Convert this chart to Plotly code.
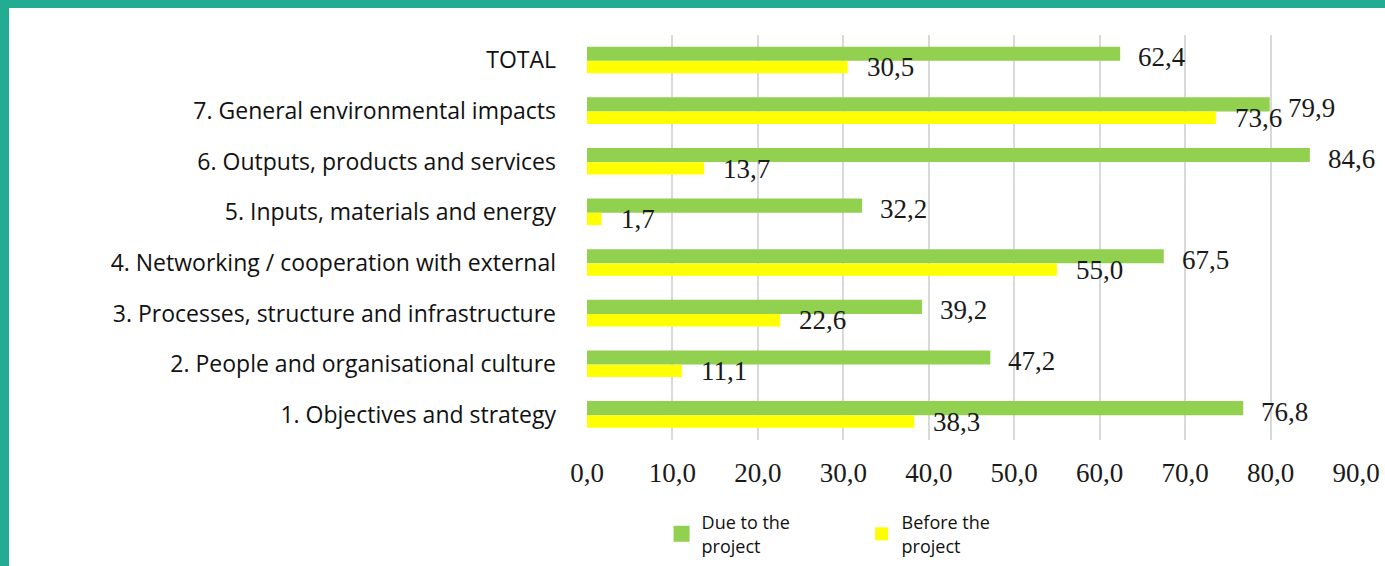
import plotly.graph_objects as go

categories = [
    "TOTAL",
    "7. General environmental impacts",
    "6. Outputs, products and services",
    "5. Inputs, materials and energy",
    "4. Networking / cooperation with external",
    "3. Processes, structure and infrastructure",
    "2. People and organisational culture",
    "1. Objectives and strategy",
]
due_to_project = [62.4, 79.9, 84.6, 32.2, 67.5, 39.2, 47.2, 76.8]
before_project = [30.5, 73.6, 13.7, 1.7, 55.0, 22.6, 11.1, 38.3]
series_names = ["Due to the<br>project", "Before the<br>project"]
x_ticks = [0, 10, 20, 30, 40, 50, 60, 70, 80, 90]
x_tick_labels = ["0,0", "10,0", "20,0", "30,0", "40,0", "50,0", "60,0", "70,0", "80,0", "90,0"]

GREEN = "#92D050"
YELLOW = "#FFFF00"
TEAL = "#22AD93"

W, H = 1385, 566
ML, MR, MT, MB = 587, 29, 35, 126
PW, PH = W - ML - MR, H - MT - MB

def fmt(v):
    return f"{v:.1f}".replace(".", ",")

fig = go.Figure()
fig.add_trace(go.Bar(
    y=categories, x=due_to_project, orientation="h", name=series_names[0],
    marker=dict(color=GREEN, line=dict(width=0)), width=0.28, offset=-0.27,
    showlegend=False, hoverinfo="x+y",
))
fig.add_trace(go.Bar(
    y=categories, x=before_project, orientation="h", name=series_names[1],
    marker=dict(color=YELLOW, line=dict(width=0)), width=0.245, offset=0.012,
    showlegend=False, hoverinfo="x+y",
))
# legend entries with larger square swatches
fig.add_trace(go.Scatter(x=[None], y=[None], mode="markers", name=series_names[0],
                         marker=dict(symbol="square", size=16, color=GREEN), legendrank=1))
fig.add_trace(go.Scatter(x=[None], y=[None], mode="markers", name=series_names[1],
                         marker=dict(symbol="square", size=13, color=YELLOW), legendrank=2))

LABEL_FONT = dict(family="Liberation Serif", size=27, color="#1a1a1a")
annotations = []
for cat, v in zip(categories, due_to_project):
    annotations.append(dict(x=v, y=cat, text=fmt(v), showarrow=False, xanchor="left",
                            yanchor="middle", xshift=16, yshift=3, font=LABEL_FONT))
for cat, v in zip(categories, before_project):
    annotations.append(dict(x=v, y=cat, text=fmt(v), showarrow=False, xanchor="left",
                            yanchor="middle", xshift=17, yshift=-7, font=LABEL_FONT))

def px_to_paper_x(px):
    return (px - ML) / PW

def px_to_paper_y(py):
    return (H - MB - py) / PH

# white page on a teal background, leaving a teal strip on the top and left edges
shapes = [
    dict(type="rect", xref="paper", yref="paper", layer="below",
         x0=px_to_paper_x(9), x1=px_to_paper_x(W + 5), y0=px_to_paper_y(H + 5), y1=px_to_paper_y(8),
         fillcolor="white", line=dict(width=0)),
]

fig.update_layout(
    width=W, height=H,
    margin=dict(l=ML, r=MR, t=MT, b=MB, pad=0, autoexpand=False),
    paper_bgcolor=TEAL, plot_bgcolor="white",
    barmode="overlay",
    showlegend=True,
    legend=dict(orientation="h", x=0.097, y=-0.232, xanchor="left", yanchor="middle",
                font=dict(family="Open Sans", size=18, color="#111111"),
                entrywidth=155, entrywidthmode="pixels", itemsizing="trace",
                bgcolor="rgba(0,0,0,0)"),
    annotations=annotations,
    shapes=shapes,
    xaxis=dict(range=[0, 90], tickvals=x_ticks, ticktext=x_tick_labels,
               showgrid=True, gridcolor="#D9D9D9", gridwidth=2, zeroline=False,
               showline=False, ticks="", ticklabelstandoff=14, automargin=False,
               tickfont=LABEL_FONT, fixedrange=True, layer="below traces"),
    yaxis=dict(autorange="reversed", showgrid=False, zeroline=False, showline=False,
               ticks="", ticklabelstandoff=30, automargin=False,
               tickfont=dict(family="Open Sans", size=23, color="#111111"),
               fixedrange=True),
)

fig.write_html(
    "out.html",
    config={"displayModeBar": False, "staticPlot": True},
    post_script="document.body.style.margin='0';document.body.style.overflow='hidden';",
)
